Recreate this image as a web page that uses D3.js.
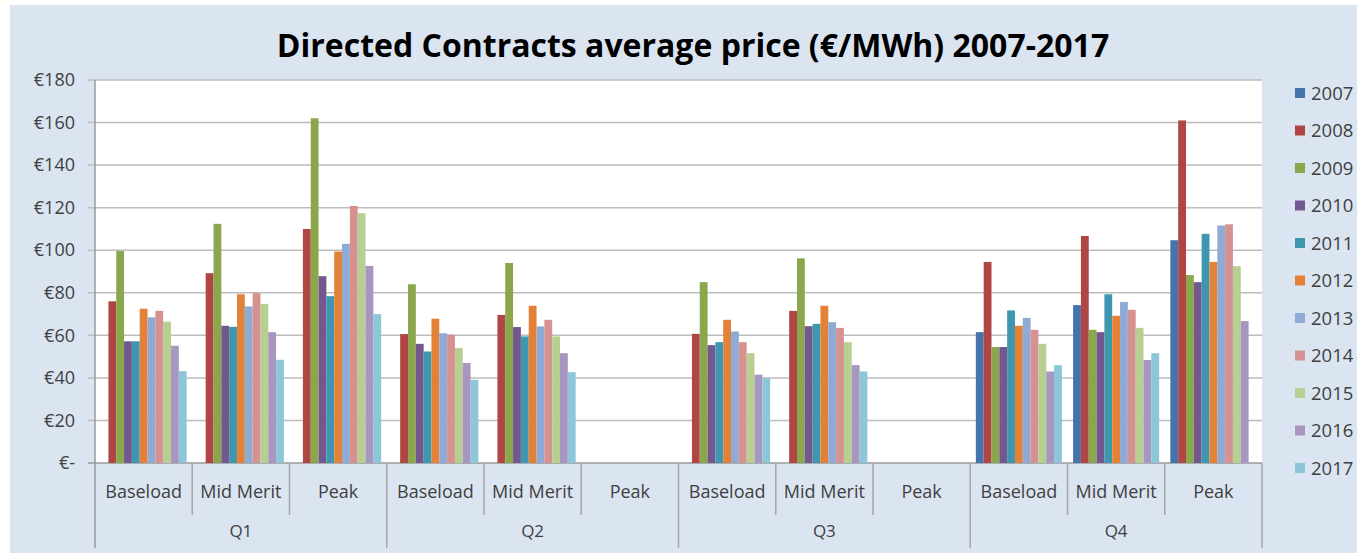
<!DOCTYPE html>
<html>
<head>
<meta charset="utf-8">
<script src="https://cdn.jsdelivr.net/npm/d3@7"></script>
<style>
  body { margin: 0; background: #fff; }
  text { font-family: 'Open Sans', 'DejaVu Sans', sans-serif; fill: #404040; }
</style>
</head>
<body>
<svg width="1357" height="553"></svg>
<script>
var quarters = ['Q1', 'Q2', 'Q3', 'Q4'];
var types = ['Baseload', 'Mid Merit', 'Peak'];
var years = ['2007', '2008', '2009', '2010', '2011', '2012', '2013', '2014', '2015', '2016', '2017'];
var colors = ['#4673ab', '#b04644', '#8aa84b', '#73588f', '#3f97af', '#e38236', '#8faad5', '#d69291', '#b8cf92', '#a797c0', '#8cc6d8'];
var yTicks = [0, 20, 40, 60, 80, 100, 120, 140, 160, 180];

// one value per category: Q1 Base, Q1 Mid, Q1 Peak, Q2 ..., Q4 Peak
var v2007 = [null, null, null, null, null, null, null, null, null, 61.5, 74.2, 104.7];
var v2008 = [76, 89.2, 110, 60.6, 69.6, null, 60.7, 71.5, null, 94.5, 106.7, 161];
var v2009 = [99.6, 112.4, 162, 84, 94, null, 85, 96.2, null, 54.5, 62.6, 88.3];
var v2010 = [57.2, 64.5, 87.8, 56, 63.9, null, 55.4, 64.3, null, 54.5, 61.5, 85];
var v2011 = [57.2, 64, 78.4, 52.4, 59.5, null, 56.8, 65.4, null, 71.7, 79.3, 107.7];
var v2012 = [72.5, 79.3, 99.4, 67.8, 73.9, null, 67.3, 73.9, null, 64.5, 69.2, 94.5];
var v2013 = [68.5, 73.6, 103, 61, 64.2, null, 61.8, 66.2, null, 68.2, 75.7, 111.6];
var v2014 = [71.5, 79.8, 120.8, 60.3, 67.3, null, 56.8, 63.5, null, 62.6, 72, 112.2];
var v2015 = [66.4, 74.8, 117.4, 54, 59.5, null, 51.6, 56.8, null, 56, 63.5, 92.5];
var v2016 = [55.1, 61.5, 92.6, 47, 51.6, null, 41.5, 46, null, 43, 48.4, 66.7];
var v2017 = [43.2, 48.5, 70, 39.1, 42.7, null, 39.8, 43, null, 46, 51.6, null];
var series = [v2007, v2008, v2009, v2010, v2011, v2012, v2013, v2014, v2015, v2016, v2017];

var categories = [];
quarters.forEach(function(q) {
  types.forEach(function(t) {
    categories.push({ quarter: q, type: t, key: q + ' ' + t });
  });
});

var svg = d3.select('svg');
var plotLeft = 95, plotRight = 1262, plotTop = 80, plotBottom = 463;

// panel background
svg.append('rect')
  .attr('x', 10).attr('y', 5)
  .attr('width', 1347).attr('height', 548)
  .attr('fill', '#dbe5f1');

svg.append('rect')
  .attr('x', plotLeft).attr('y', plotTop)
  .attr('width', plotRight - plotLeft).attr('height', plotBottom - plotTop)
  .attr('fill', '#fff');

var y = d3.scaleLinear().domain([0, 180]).range([plotBottom, plotTop]);

var x0 = d3.scaleBand()
  .domain(categories.map(function(d) { return d.key; }))
  .range([plotLeft, plotRight])
  .paddingInner(0.115)
  .paddingOuter(0.0575);

var x1 = d3.scaleBand()
  .domain(years)
  .range([0, x0.bandwidth()]);

var step = x0.step();

// gridlines
svg.selectAll('.grid')
  .data(yTicks)
  .enter()
  .append('line')
  .attr('x1', plotLeft - 7)
  .attr('x2', plotRight)
  .attr('y1', function(d) { return y(d); })
  .attr('y2', function(d) { return y(d); })
  .attr('stroke', function(d) { return d === 0 ? '#9a9a9a' : '#bdbdbd'; })
  .attr('stroke-width', 1.5);

var yAxis = d3.axisLeft(y)
  .tickValues(yTicks)
  .tickSize(0)
  .tickPadding(20)
  .tickFormat(function(d) { return d === 0 ? '€-' : '€' + d; });

var yg = svg.append('g')
  .attr('transform', 'translate(' + plotLeft + ',0)')
  .call(yAxis);
yg.select('.domain').remove();
yg.selectAll('text')
  .style('font-size', '18px')
  .style('fill', '#404040')
  .style('font-family', "'Open Sans', sans-serif");

// bars
var catGroup = svg.selectAll('.cat')
  .data(categories)
  .enter()
  .append('g')
  .attr('transform', function(d) {
    return 'translate(' + x0(d.key) + ',0)';
  });

catGroup.selectAll('rect')
  .data(function(d, i) {
    return years.map(function(yr, j) {
      return { year: yr, value: series[j][i], color: colors[j] };
    }).filter(function(b) { return b.value !== null; });
  })
  .enter()
  .append('rect')
  .attr('x', function(d) { return x1(d.year); })
  .attr('width', x1.bandwidth())
  .attr('y', function(d) { return y(d.value); })
  .attr('height', function(d) { return y(0) - y(d.value); })
  .attr('fill', function(d) { return d.color; });

// category axis: left axis line + separators
svg.append('line')
  .attr('x1', plotLeft).attr('x2', plotLeft)
  .attr('y1', plotTop).attr('y2', 548)
  .attr('stroke', '#9a9a9a').attr('stroke-width', 1.5);

svg.selectAll('.sep')
  .data(d3.range(1, categories.length + 1))
  .enter()
  .append('line')
  .attr('x1', function(i) { return plotLeft + i * step; })
  .attr('x2', function(i) { return plotLeft + i * step; })
  .attr('y1', plotBottom)
  .attr('y2', function(i) { return i % 3 === 0 ? 548 : 515; })
  .attr('stroke', '#a6a6a6').attr('stroke-width', 1.5);

svg.selectAll('.typeLabel')
  .data(categories)
  .enter()
  .append('text')
  .attr('x', function(d) { return x0(d.key) + x0.bandwidth() / 2; })
  .attr('y', 498)
  .attr('text-anchor', 'middle')
  .style('font-size', '18px')
  .text(function(d) { return d.type; });

svg.selectAll('.qLabel')
  .data(quarters)
  .enter()
  .append('text')
  .attr('x', function(d, i) { return plotLeft + (i * 3 + 1.5) * step; })
  .attr('y', 537)
  .attr('text-anchor', 'middle')
  .style('font-size', '17px')
  .text(function(d) { return d; });

// title
svg.append('text')
  .attr('x', 693)
  .attr('y', 57)
  .attr('text-anchor', 'middle')
  .style('font-size', '32px')
  .style('font-weight', 'bold')
  .style('fill', '#000')
  .text('Directed Contracts average price (€/MWh) 2007-2017');

// legend
var legend = svg.selectAll('.legend')
  .data(years)
  .enter()
  .append('g')
  .attr('transform', function(d, i) {
    return 'translate(1295,' + (93 + i * 37.5) + ')';
  });

legend.append('rect')
  .attr('x', 0).attr('y', -5)
  .attr('width', 10).attr('height', 10)
  .attr('fill', function(d, i) { return colors[i]; });

legend.append('text')
  .attr('x', 16)
  .attr('y', 6.5)
  .style('font-size', '18.5px')
  .text(function(d) { return d; });
</script>
</body>
</html>
